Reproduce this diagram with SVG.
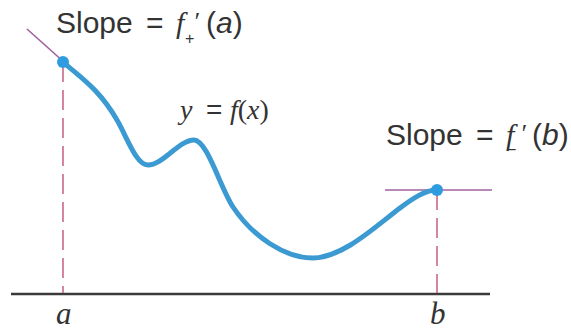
<svg xmlns="http://www.w3.org/2000/svg" width="571" height="331" viewBox="0 0 571 331">
<style>
.sans{font-family:"Liberation Sans",Arial,sans-serif;fill:#333;}
.ser{font-family:"Liberation Serif","Times New Roman",serif;font-style:italic;fill:#333;}
.tan{stroke:#a0619e;stroke-width:1.6;fill:none;}
.dash{stroke:#c76a88;stroke-width:1.6;stroke-dasharray:20 8;fill:none;}
.pt{fill:#2f9ce0;}
</style>
<rect width="571" height="331" fill="#fff"/>
<g id="connectors">
<line id="axis" x1="11" y1="294" x2="490" y2="294" stroke="#3a3a3a" stroke-width="2.5"/>
<line class="dash" x1="63" y1="62" x2="63" y2="293"/>
<line class="dash" x1="437" y1="190" x2="437" y2="293"/>
<line class="tan" x1="27" y1="29" x2="103" y2="97"/>
<line class="tan" x1="385" y1="190" x2="492" y2="190"/>
<path id="curve" d="M63,62 C81,78 99,89 117,120 C127,137 136,165 148,165 C163,165 179,140 194,140 C207,140 220,187 233,207 C253,237 285,258 313,258 C342,258 375,227 400,208 C412,199 425,190 437,190" fill="none" stroke="#3b9ad2" stroke-width="5" stroke-linecap="round"/>
</g>
<g id="pointA"><circle class="pt" cx="63" cy="62" r="6"/></g>
<g id="pointB"><circle class="pt" cx="437" cy="190" r="6"/></g>
<g id="labelA">
<text class="sans" x="56" y="33" font-size="30">Slope</text>
<text class="sans" x="146" y="33" font-size="30">=</text>
<text class="ser" x="176" y="33" font-size="30">f</text>
<text class="ser" x="193" y="30" font-size="26">′</text>
<text class="sans" x="185" y="44" font-size="16">+</text>
<text class="sans" x="206" y="33" font-size="30">(<tspan font-style="italic">a</tspan>)</text>
</g>
<g id="labelB">
<text class="sans" x="386" y="145" font-size="30">Slope</text>
<text class="sans" x="476" y="145" font-size="30">=</text>
<text class="ser" x="506" y="145" font-size="30">f</text>
<text class="ser" x="520" y="142" font-size="26">′</text>
<text class="sans" x="507" y="155" font-size="16">−</text>
<text class="sans" x="532" y="145" font-size="30">(<tspan font-style="italic">b</tspan>)</text>
</g>
<g id="labelF">
<text class="ser" x="180" y="119" font-size="28">y</text>
<text class="sans" x="206" y="119" font-size="28">=</text>
<text class="ser" x="230" y="119" font-size="28">f<tspan font-style="normal">(</tspan>x<tspan font-style="normal">)</tspan></text>
</g>
<g id="ticks">
<text class="ser" x="56" y="324" font-size="31">a</text>
<text class="ser" x="430" y="324" font-size="31">b</text>
</g>
</svg>
